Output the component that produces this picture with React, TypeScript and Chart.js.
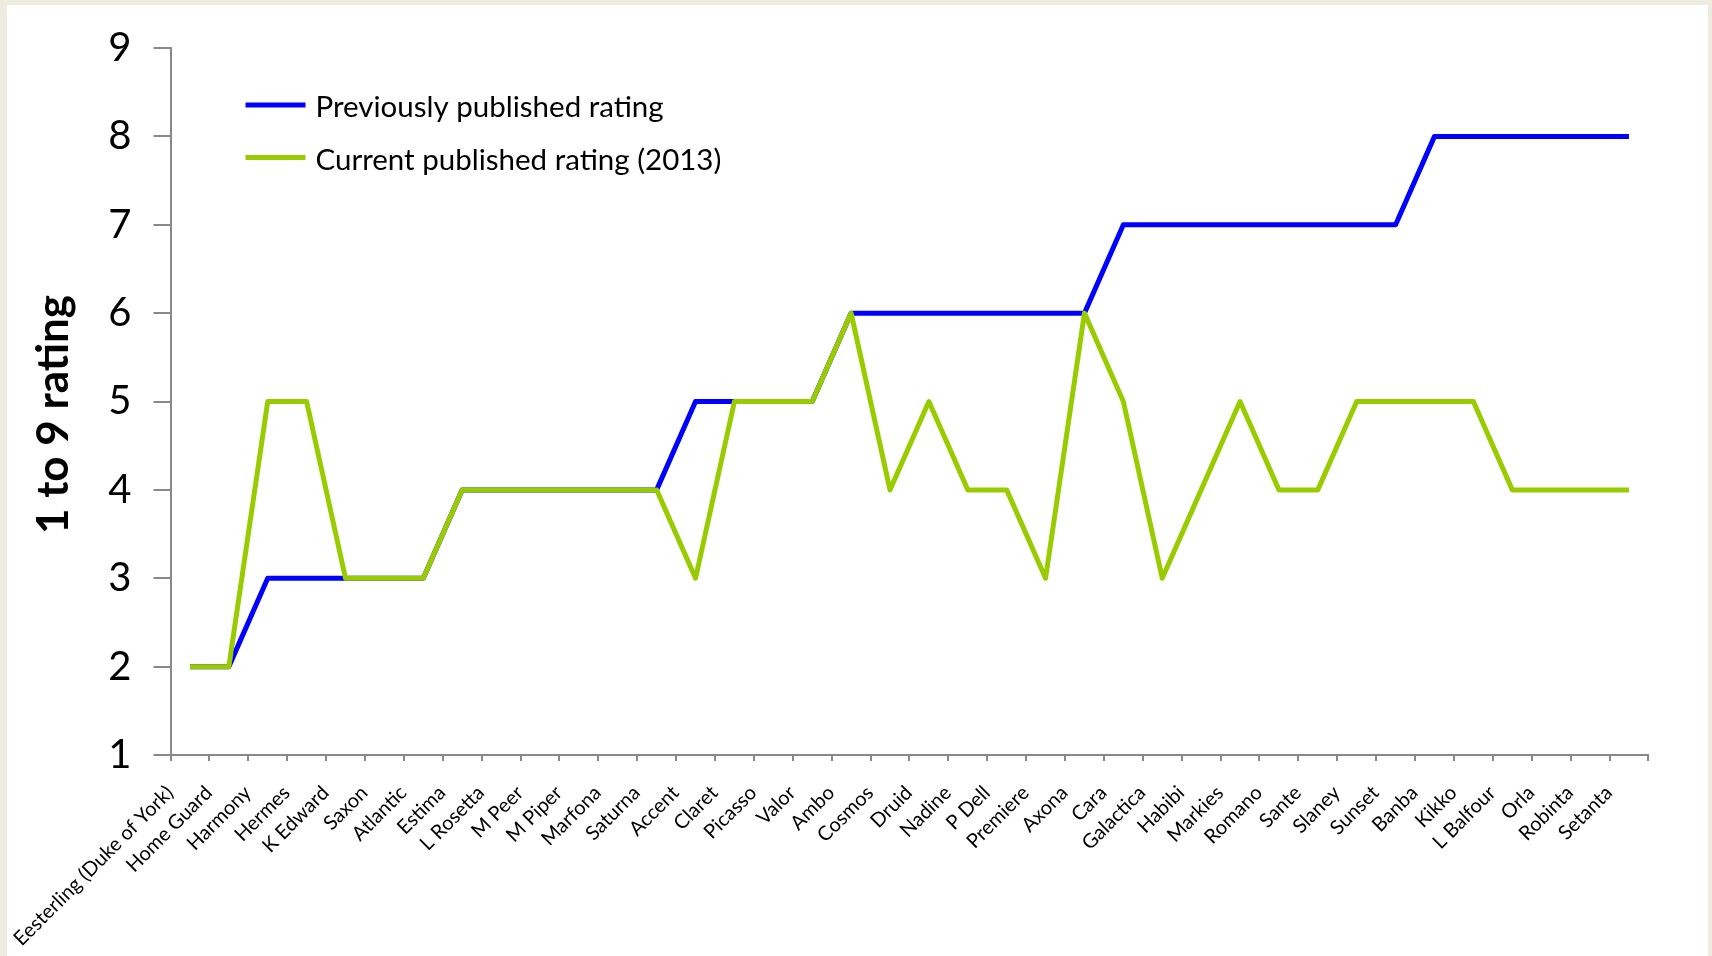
import React, { useEffect, useRef } from "react";
import { Chart, registerables } from "chart.js";

Chart.register(...registerables);

// Potato varieties along the x axis
const varieties = [
  "Eesterling (Duke of York)", "Home Guard", "Harmony", "Hermes", "K Edward",
  "Saxon", "Atlantic", "Estima", "L Rosetta", "M Peer", "M Piper", "Marfona",
  "Saturna", "Accent", "Claret", "Picasso", "Valor", "Ambo", "Cosmos", "Druid",
  "Nadine", "P Dell", "Premiere", "Axona", "Cara", "Galactica", "Habibi",
  "Markies", "Romano", "Sante", "Slaney", "Sunset", "Banba", "Kikko",
  "L Balfour", "Orla", "Robinta", "Setanta",
];

// Previously published rating (1 to 9)
const previousRating = [
  2, 2, 3, 3, 3, 3, 3, 4, 4, 4, 4, 4, 4, 5, 5, 5, 5, 6, 6, 6,
  6, 6, 6, 6, 7, 7, 7, 7, 7, 7, 7, 7, 8, 8, 8, 8, 8, 8,
];

// Current published rating (2013)
const currentRating = [
  2, 2, 5, 5, 3, 3, 3, 4, 4, 4, 4, 4, 4, 3, 5, 5, 5, 6, 4, 5,
  4, 4, 3, 6, 5, 3, 4, 5, 4, 4, 5, 5, 5, 5, 4, 4, 4, 4,
];

const ratingTicks = [1, 2, 3, 4, 5, 6, 7, 8, 9];

const seriesNames = ["Previously published rating", "Current published rating (2013)"];
const seriesColors = ["#0000FF", "#99CC00"];
const axisTitle = "1 to 9 rating";

const AXIS_GREY = "#898989";
const FONT = "Lato";

// Draws the legend inside the plot area and the rotated y-axis title
const insetLegendPlugin = {
  id: "insetLegend",
  afterDraw(chart: any) {
    const { ctx, chartArea } = chart;
    ctx.save();
    chart.data.datasets.forEach((ds: any, i: number) => {
      const y = chartArea.top + 57 + i * 52.5;
      const x0 = chartArea.left + 75;
      ctx.strokeStyle = ds.borderColor;
      ctx.lineWidth = 5;
      ctx.lineCap = "butt";
      ctx.beginPath();
      ctx.moveTo(x0, y);
      ctx.lineTo(x0 + 60, y);
      ctx.stroke();
      ctx.fillStyle = "#000";
      ctx.font = `29.5px ${FONT}`;
      ctx.textBaseline = "middle";
      ctx.textAlign = "left";
      ctx.fillText(ds.label, x0 + 70, y + 2.5);
    });
    ctx.translate(54, (chartArea.top + chartArea.bottom) / 2 + 13);
    ctx.rotate(-Math.PI / 2);
    ctx.font = `bold 44px ${FONT}`;
    ctx.textAlign = "center";
    ctx.textBaseline = "middle";
    ctx.fillStyle = "#000";
    ctx.fillText(axisTitle, 0, 0);
    ctx.restore();
  },
};

export default function App() {
  const canvasRef = useRef<HTMLCanvasElement | null>(null);

  useEffect(() => {
    const canvas = canvasRef.current;
    if (!canvas) return;
    const chart = new Chart(canvas, {
      type: "line",
      data: {
        labels: varieties,
        datasets: [
          {
            label: seriesNames[0],
            data: previousRating,
            borderColor: seriesColors[0],
            backgroundColor: seriesColors[0],
            borderWidth: 5,
            pointRadius: 0,
            tension: 0,
            borderJoinStyle: "round",
            borderCapStyle: "butt",
            fill: false,
            order: 1,
          },
          {
            label: seriesNames[1],
            data: currentRating,
            borderColor: seriesColors[1],
            backgroundColor: seriesColors[1],
            borderWidth: 5,
            pointRadius: 0,
            tension: 0,
            borderJoinStyle: "round",
            borderCapStyle: "butt",
            fill: false,
            order: 0,
          },
        ],
      },
      options: {
        responsive: false,
        animation: false,
        events: [],
        layout: { padding: { left: 0, top: 48, right: 63.6, bottom: 0 } },
        plugins: {
          legend: { display: false },
          tooltip: { enabled: false },
        },
        scales: {
          x: {
            type: "category",
            offset: true,
            grid: {
              display: true,
              drawOnChartArea: false,
              drawTicks: true,
              tickLength: 6,
              offset: true,
              color: AXIS_GREY,
              lineWidth: 2,
            },
            border: { display: true, color: AXIS_GREY, width: 2 },
            ticks: {
              autoSkip: false,
              maxRotation: 45,
              minRotation: 45,
              color: "#000",
              font: { family: FONT, size: 20 },
              padding: 20,
              labelOffset: -20,
            },
            afterFit(scale: any) {
              scale.height = 201;
            },
          },
          y: {
            type: "linear",
            min: 1,
            max: 9,
            grid: {
              drawOnChartArea: false,
              drawTicks: true,
              tickLength: 17,
              color: AXIS_GREY,
              lineWidth: 2,
            },
            border: { display: true, color: AXIS_GREY, width: 2 },
            ticks: {
              color: "#000",
              font: { family: FONT, size: 40 },
              padding: 22,
            },
            afterBuildTicks(scale: any) {
              scale.ticks = ratingTicks.map((v) => ({ value: v }));
            },
            afterFit(scale: any) {
              scale.width = 170.5;
            },
          },
        },
      },
      plugins: [insetLegendPlugin],
    });
    return () => chart.destroy();
  }, []);

  return (
    <div
      style={{
        position: "absolute",
        left: 0,
        top: 0,
        width: 1712,
        height: 956,
        background: "#EEEBDF",
        overflow: "hidden",
      }}
    >
      <div
        style={{
          position: "absolute",
          left: 7,
          top: 5,
          width: 1701,
          height: 951,
          background: "#FFFFFF",
        }}
      />
      <canvas
        ref={canvasRef}
        width={1712}
        height={956}
        style={{ position: "absolute", left: 0, top: 0, width: 1712, height: 956 }}
      />
    </div>
  );
}
